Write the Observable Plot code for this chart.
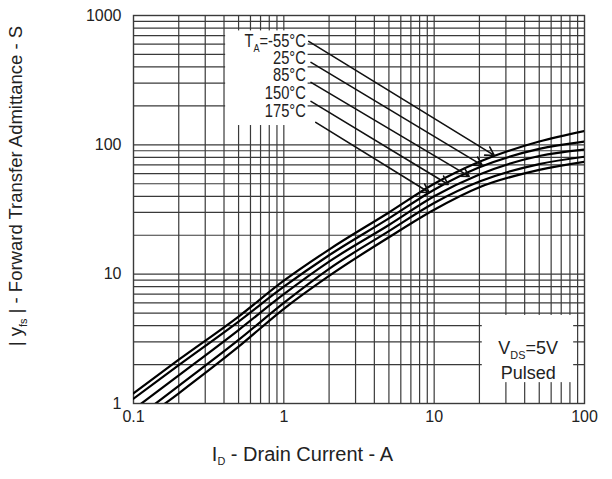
<!DOCTYPE html>
<html>
<head>
<meta charset="utf-8">
<script src="https://cdn.jsdelivr.net/npm/d3@7"></script>
<script src="https://cdn.jsdelivr.net/npm/@observablehq/plot@0.6"></script>
<style>
  html, body { margin: 0; padding: 0; background: #fff; }
  #chart svg { display: block; }
</style>
</head>
<body>
<div id="chart"></div>
<script>
// ---- data ----
const currents = [0.1, 0.2, 0.5, 1, 2, 5, 10, 20, 50, 100];            // I_D (A)
const temps = ["-55°C", "25°C", "85°C", "150°C", "175°C"];
const yfs_m55 = [1.2, 2.18, 4.7, 8.9, 15.5, 30, 50, 74, 106, 128];
const yfs_25  = [1.09, 1.98, 4.3, 8.0, 14.0, 27, 45, 67, 93, 106];
const yfs_85  = [0.9, 1.65, 3.7, 7.0, 12.5, 24, 40, 59, 82, 92];
const yfs_150 = [0.74, 1.37, 3.1, 6.0, 11, 21.5, 35.5, 52, 71, 81];
const yfs_175 = [0.66, 1.2, 2.75, 5.4, 9.7, 19.3, 31.5, 47, 64, 74];
const seriesValues = [yfs_m55, yfs_25, yfs_85, yfs_150, yfs_175];

const xTicks = [0.1, 1, 10, 100];
const xTickLabels = ["0.1", "1", "10", "100"];
const yTicks = [1, 10, 100, 1000];
const yTickLabels = ["1", "10", "100", "1000"];
const xGrid = [0.2,0.3,0.4,0.5,0.6,0.7,0.8,0.9,1,2,3,4,5,6,7,8,9,10,20,30,40,50,60,70,80,90];
const yGrid = [2,3,4,5,6,7,8,9,10,20,30,40,50,60,70,80,90,100,200,300,400,500,600,700,800,900];

// temperature labels (data coordinates) and their arrows
const labelTexts = ["T_{A}=-55°C", "25°C", "85°C", "150°C", "175°C"];
const labelX = [1.40, 1.40, 1.40, 1.40, 1.40];
const labelY = [625, 470, 344, 250, 180];
const arrowX1 = [1.464, 1.516, 1.516, 1.516, 1.63];
const arrowY1 = [631, 434, 304, 217, 149];
const arrowX2 = [25.1, 20.9, 17.1, 12.4, 9.27];
const arrowY2 = [82.8, 69.3, 57, 49.4, 42.8];

// annotation boxes
const boxX1 = [0.41, 20.9];
const boxX2 = [1.45, 84.7];
const boxY1 = [141, 1.45];
const boxY2 = [760, 4.8];
const condTexts = ["V_{DS}=5V", "Pulsed"];
const condX = [42.2, 42.2];
const condY = [2.66, 1.71];

const xTitle = "I_{D} - Drain Current - A";
const yTitle = "| y_{fs} | - Forward Transfer Admittance - S";

// ---- tables ----
const curveData = [];
temps.forEach((t, i) => currents.forEach((c, j) => curveData.push({temp: t, id: c, yfs: seriesValues[i][j]})));
const labels = labelTexts.map((t, i) => ({t, x: labelX[i], y: labelY[i]}));
const arrows = arrowX1.map((x1, i) => ({x1, y1: arrowY1[i], x2: arrowX2[i], y2: arrowY2[i]}));
const boxes = boxX1.map((x1, i) => ({x1, x2: boxX2[i], y1: boxY1[i], y2: boxY2[i]}));
const conds = condTexts.map((t, i) => ({t, x: condX[i], y: condY[i]}));

const gridColor = "#3a3a3a";
const font = "'Liberation Sans', Arial, sans-serif";

const chart = Plot.plot({
  width: 612,
  height: 479,
  marginLeft: 133,
  marginRight: 28,
  marginTop: 15,
  marginBottom: 76,
  style: {fontFamily: font, fontSize: "16px", color: "#222", background: "#fff"},
  x: {type: "log", domain: [0.1, 100]},
  y: {type: "log", domain: [1, 1000]},
  marks: [
    Plot.ruleX(xGrid, {stroke: gridColor, strokeWidth: 1.2}),
    Plot.ruleY(yGrid, {stroke: gridColor, strokeWidth: 1.2}),
    Plot.rect(boxes, {x1: "x1", x2: "x2", y1: "y1", y2: "y2", fill: "white"}),
    Plot.frame({stroke: gridColor, strokeWidth: 1.4}),
    Plot.line(curveData, {x: "id", y: "yfs", z: "temp", stroke: "#000", strokeWidth: 2.2, curve: "monotone-x", clip: true}),
    Plot.arrow(arrows, {x1: "x1", y1: "y1", x2: "x2", y2: "y2", stroke: "#111", strokeWidth: 1.6, headLength: 9}),
    Plot.text(labels, {x: "x", y: "y", text: "t", textAnchor: "end", fontSize: 17.5, fill: "#222"}),
    Plot.text(conds, {x: "x", y: "y", text: "t", fontSize: 18, fill: "#222"}),
    Plot.axisX({ticks: xTicks, tickFormat: d => xTickLabels[xTicks.indexOf(d)], tickSize: 0, tickPadding: 7, label: null, fontSize: 16}),
    Plot.axisY({ticks: yTicks, tickFormat: d => yTickLabels[yTicks.indexOf(d)], tickSize: 0, tickPadding: 12, label: null, fontSize: 16}),
    Plot.text([xTitle], {x: 1.33, frameAnchor: "bottom", dy: 57, text: d => d, fontSize: 20, fill: "#222"}),
    Plot.text([yTitle], {y: 48, frameAnchor: "left", dx: -117, rotate: -90, textAnchor: "middle", text: d => d, fontSize: 18.5, fill: "#222"})
  ]
});

// the temperature labels use a condensed face: squeeze them horizontally about their anchor
function condense(svg, texts, s) {
  d3.select(svg).selectAll("text").each(function () {
    if (!texts.includes(this.textContent)) return;
    const tr = this.getAttribute("transform") || "";
    const x = this.getAttribute("x"), y = this.getAttribute("y");
    if (x != null && y != null) {
      this.setAttribute("transform", `${tr} translate(${x},${y}) scale(${s},1) translate(${-x},${-y})`);
    } else {
      this.setAttribute("transform", `${tr} scale(${s},1)`);
    }
  });
}

// convert "_{...}" markup into real subscript tspans
function applySubscripts(svg) {
  d3.select(svg).selectAll("text").each(function () {
    const s = this.textContent;
    if (!s.includes("_{")) return;
    const fs = parseFloat(this.getAttribute("font-size")) || parseFloat(getComputedStyle(this).fontSize) || 16;
    const sel = d3.select(this);
    sel.selectAll("*").remove();
    this.textContent = "";
    const re = /_\{([^}]*)\}/g;
    let last = 0, m, shifted = false;
    const add = (txt, sub) => {
      if (!txt) return;
      const ts = sel.append("tspan").text(txt);
      if (sub) { ts.attr("font-size", fs * 0.68).attr("dy", fs * 0.28); shifted = true; }
      else if (shifted) { ts.attr("dy", -fs * 0.28); shifted = false; }
    };
    while ((m = re.exec(s))) { add(s.slice(last, m.index), false); add(m[1], true); last = re.lastIndex; }
    add(s.slice(last), false);
  });
}
condense(chart, labelTexts, 0.84);
applySubscripts(chart);
document.getElementById("chart").append(chart);
</script>
</body>
</html>
